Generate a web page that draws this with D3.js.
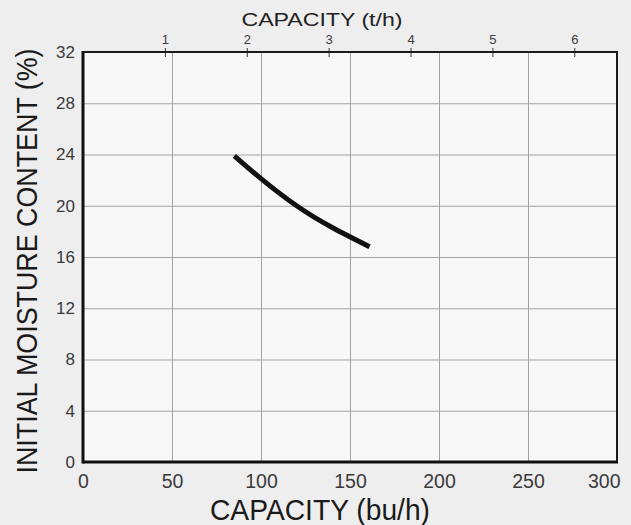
<!DOCTYPE html>
<meta charset="utf-8">
<style>
  body { margin: 0; background: #eeeeee; }
  text { font-family: "Liberation Sans", Arial, sans-serif; }
</style>
<body>
<div id="chart"></div>
<script src="https://d3js.org/d3.v7.min.js"></script>
<script>

// data
var capacityBu = [85, 100, 120, 140, 161];        // bu/h
var moisture   = [23.9, 22.12, 20.0, 18.3, 16.8]; // %

var buTicks = [0, 50, 100, 150, 200, 250, 300];
var tphTicks = [1, 2, 3, 4, 5, 6];
var moistureTicks = [0, 4, 8, 12, 16, 20, 24, 28, 32];
var buPerTonne = 46;

var W = 631, H = 525;
var pLeft = 83, pRight = 617, pTop = 52, pBottom = 462;

var svg = d3.select("#chart").append("svg")
    .attr("width", W)
    .attr("height", H);

svg.append("rect")
    .attr("width", W).attr("height", H)
    .attr("fill", "#eeeeee");

var x = d3.scaleLinear().domain([0, 300]).range([pLeft, pRight]);
var xt = d3.scaleLinear().domain([0, 300 / buPerTonne]).range([pLeft, pRight]);
var y = d3.scaleLinear().domain([0, 32]).range([pBottom, pTop]);

// plot area
svg.append("rect")
    .attr("x", pLeft).attr("y", pTop)
    .attr("width", pRight - pLeft).attr("height", pBottom - pTop)
    .attr("fill", "#f8f8f8");

// grid
svg.append("g")
    .attr("transform", "translate(0," + pBottom + ")")
    .call(d3.axisBottom(x).tickValues(buTicks.slice(1, -1)).tickSize(-(pBottom - pTop)).tickFormat(""))
    .call(function(g) { g.select(".domain").remove(); })
    .selectAll("line").attr("stroke", "#a3a3a3");

svg.append("g")
    .attr("transform", "translate(" + pLeft + ",0)")
    .call(d3.axisLeft(y).tickValues(moistureTicks.slice(1, -1)).tickSize(-(pRight - pLeft)).tickFormat(""))
    .call(function(g) { g.select(".domain").remove(); })
    .selectAll("line").attr("stroke", "#a3a3a3");

// bottom labels
var bx = svg.append("g")
    .attr("transform", "translate(0," + pBottom + ")")
    .call(d3.axisBottom(x).tickValues(buTicks).tickSize(0).tickPadding(12));
bx.select(".domain").remove();
bx.selectAll("text")
    .attr("font-size", "19.5px")
    .attr("font-family", "Liberation Sans, Arial, sans-serif")
    .attr("fill", "#3a3a3a");
bx.selectAll(".tick").filter(function(d) { return d === 300; })
    .select("text").attr("text-anchor", "end").attr("x", 3);

// left labels
var ly = svg.append("g")
    .attr("transform", "translate(" + pLeft + ",0)")
    .call(d3.axisLeft(y).tickValues(moistureTicks).tickSize(0).tickPadding(8));
ly.select(".domain").remove();
ly.selectAll("text")
    .attr("font-size", "17px")
    .attr("font-family", "Liberation Sans, Arial, sans-serif")
    .attr("fill", "#3a3a3a");

// top t/h axis
var tx = svg.append("g")
    .attr("transform", "translate(0," + pTop + ")")
    .call(d3.axisTop(xt).tickValues(tphTicks).tickFormat(d3.format("d")).tickSize(4).tickPadding(4));
tx.select(".domain").remove();
tx.selectAll("line").attr("y1", 5).attr("stroke", "#333");
tx.selectAll("text")
    .attr("font-size", "13px")
    .attr("font-family", "Liberation Sans, Arial, sans-serif")
    .attr("fill", "#3a3a3a");

// frame
svg.append("line").attr("x1", pLeft).attr("x2", pRight).attr("y1", pTop).attr("y2", pTop)
    .attr("stroke", "#1a1a1a").attr("stroke-width", 2);
svg.append("line").attr("x1", pRight).attr("x2", pRight).attr("y1", pTop - 1).attr("y2", pBottom)
    .attr("stroke", "#1a1a1a").attr("stroke-width", 2);
svg.append("line").attr("x1", pLeft).attr("x2", pLeft).attr("y1", pTop - 1).attr("y2", pBottom + 1.5)
    .attr("stroke", "#111").attr("stroke-width", 3);
svg.append("line").attr("x1", pLeft).attr("x2", pRight + 1).attr("y1", pBottom).attr("y2", pBottom)
    .attr("stroke", "#111").attr("stroke-width", 3);

// curve
var pts = capacityBu.map(function(c, i) { return [c, moisture[i]]; });
svg.append("path")
    .datum(pts)
    .attr("d", d3.line()
        .x(function(d) { return x(d[0]); })
        .y(function(d) { return y(d[1]); })
        .curve(d3.curveNatural))
    .attr("fill", "none")
    .attr("stroke", "#111")
    .attr("stroke-width", 5)
    .attr("stroke-linecap", "butt");

// titles
svg.append("text")
    .attr("x", 322).attr("y", 26)
    .attr("text-anchor", "middle")
    .attr("font-size", "19px")
    .attr("textLength", 161)
    .attr("lengthAdjust", "spacingAndGlyphs")
    .attr("fill", "#222")
    .text("CAPACITY (t/h)");

svg.append("text")
    .attr("x", 320).attr("y", 520)
    .attr("text-anchor", "middle")
    .attr("font-size", "30px")
    .attr("textLength", 220)
    .attr("lengthAdjust", "spacingAndGlyphs")
    .attr("fill", "#1a1a1a")
    .text("CAPACITY (bu/h)");

svg.append("text")
    .attr("transform", "translate(37,261) rotate(-90)")
    .attr("text-anchor", "middle")
    .attr("font-size", "29px")
    .attr("textLength", 425)
    .attr("lengthAdjust", "spacingAndGlyphs")
    .attr("fill", "#1a1a1a")
    .text("INITIAL MOISTURE CONTENT (%)");

</script>
</body>
